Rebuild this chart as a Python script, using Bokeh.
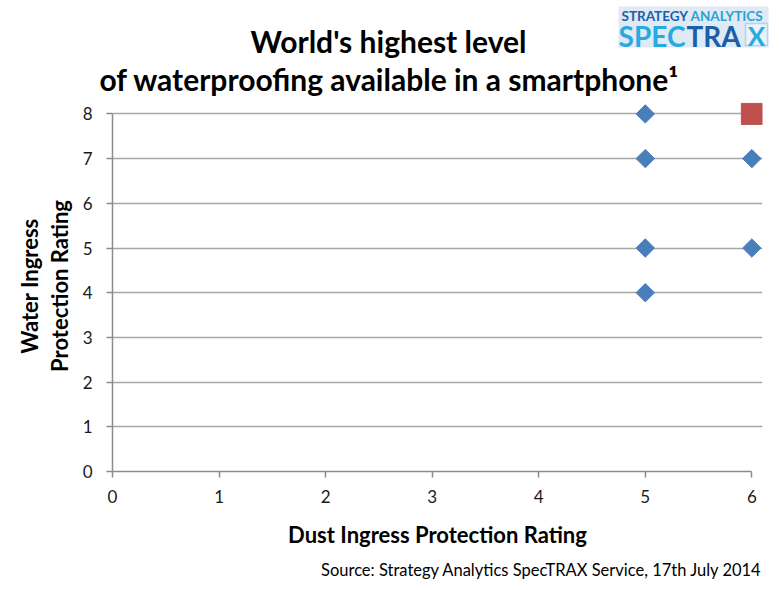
from math import pi

from bokeh.embed import file_html
from bokeh.layouts import column
from bokeh.models import BoxAnnotation, FixedTicker, Label, Range1d
from bokeh.plotting import figure
from bokeh.resources import INLINE

# ratings per device (dust = x, water = y)
dust_blue = [5, 5, 5, 5, 6, 6]
water_blue = [8, 7, 5, 4, 7, 5]
dust_red = [6]
water_red = [8]
x_ticks = [0, 1, 2, 3, 4, 5, 6]
y_ticks = [0, 1, 2, 3, 4, 5, 6, 7, 8]

FONT = "Lato"
W = 775
HEAD_H, MAIN_H, FOOT_H = 96, 456, 34


def blank(h):
    # a figure whose frame is the whole canvas; y runs downwards in pixels
    f = figure(width=W, height=h, output_backend="svg", toolbar_location=None,
               x_range=Range1d(0, W), y_range=Range1d(h, 0),
               x_axis_location=None, y_axis_location=None, min_border=0)
    f.frame_align = False
    f.grid.visible = False
    f.outline_line_color = None
    return f


def lab(f, text, x, y, size, bold=True, color="black", align="center"):
    f.add_layout(Label(x=x, y=y, text=text, text_font=FONT, text_font_size=size,
                       text_font_style="bold" if bold else "normal",
                       text_color=color, text_align=align, text_baseline="middle"))


# header: title and logo
head = blank(HEAD_H)
lab(head, "World's highest level", 388, 40, "30px")
lab(head, "of waterproofing available in a smartphone\u00b9", 389, 78, "30px")
head.add_layout(BoxAnnotation(left=618, right=768, top=6, bottom=47,
                              fill_color="#dfeaf5", fill_alpha=1, line_color=None))
head.add_layout(BoxAnnotation(left=745, right=767, top=23, bottom=45,
                              fill_color="#eaf3fa", fill_alpha=1, line_color="#27a9e1",
                              line_width=1.5))
lab(head, "STRATEGY", 621, 15, "13.5px", color="#1b5faa", align="left")
lab(head, "ANALYTICS", 690, 15, "13.5px", color="#27a3d6", align="left")
lab(head, "SPEC", 685, 35, "28px", color="#27a9e1", align="right")
lab(head, "TRA", 686, 35, "28px", color="#1b5faa", align="left")
lab(head, "X", 756, 35, "26px", color="#27a9e1")

# main scatter
p = figure(width=W, height=MAIN_H, output_backend="svg", toolbar_location=None,
           x_range=Range1d(0, 6.1), y_range=Range1d(0, 8.3),
           min_border_left=112, min_border_right=13, min_border_top=4, min_border_bottom=81,
           x_axis_label="Dust Ingress Protection Rating",
           y_axis_label="Water Ingress\nProtection Rating")
p.frame_align = False
p.outline_line_color = None

p.scatter(dust_blue, water_blue, marker="square", angle=pi / 4, size=13, color="#4a7ebb")
p.scatter(dust_red, water_red, marker="square", size=21, color="#c0504d")

p.xgrid.grid_line_color = None
p.ygrid.grid_line_color = "#a6a6a6"
p.ygrid.grid_line_width = 1.5

for ax, ticks, bounds in ((p.xaxis, x_ticks, (0, 6)), (p.yaxis, y_ticks, (0, 8))):
    ax.ticker = FixedTicker(ticks=ticks)
    ax.bounds = bounds
    ax.axis_line_color = "#8c8c8c"
    ax.axis_line_width = 1.5
    ax.major_tick_line_color = "#8c8c8c"
    ax.major_tick_line_width = 1.5
    ax.major_tick_out = 6
    ax.major_tick_in = 0
    ax.minor_tick_line_color = None
    ax.major_label_text_font = FONT
    ax.major_label_text_font_size = "17px"
    ax.major_label_text_color = "#1a1a1a"
    ax.axis_label_text_font = FONT
    ax.axis_label_text_font_size = "22px"
    ax.axis_label_text_font_style = "bold"
    ax.axis_label_text_color = "black"
p.xaxis.major_label_standoff = 12
p.yaxis.major_label_standoff = 14
p.xaxis.axis_label_standoff = 15
p.yaxis.axis_label_standoff = 7
p.yaxis.axis_label_text_line_height = 1.1

# footer: source line
foot = blank(FOOT_H)
lab(foot, "Source: Strategy Analytics SpecTRAX Service, 17th July 2014", 762, 17, "16.5px",
    bold=False, align="right")

layout = column(head, p, foot, spacing=0)
open("out.html", "w").write(file_html(layout, INLINE))
